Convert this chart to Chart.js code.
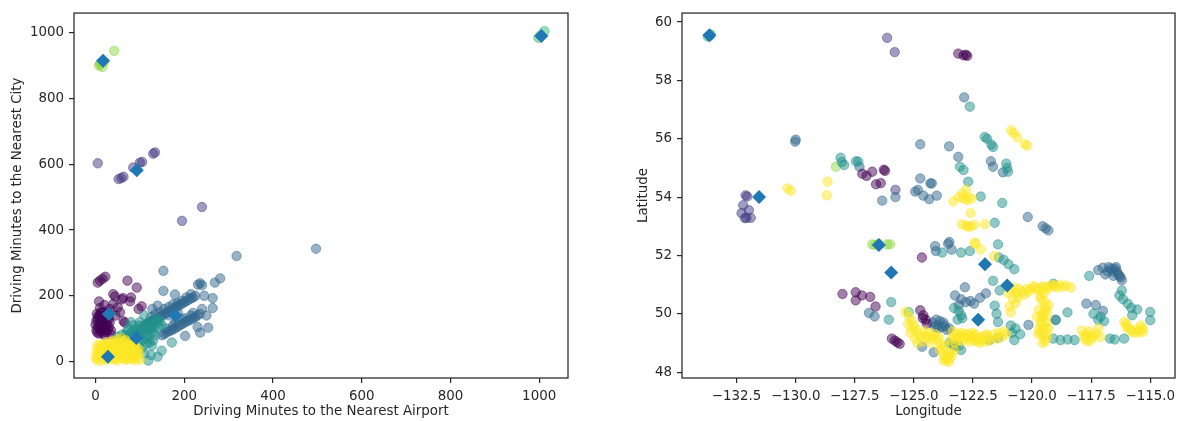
<!DOCTYPE html>
<html>
<head>
<meta charset="utf-8">
<script src="https://cdn.jsdelivr.net/npm/chart.js@4"></script>
<style>
  body { margin: 0; background: #fff; }
  .panel { position: absolute; top: 0; }
</style>
</head>
<body>
<div class="panel" style="left:0"><canvas id="minutesChart" width="590" height="421"></canvas></div>
<div class="panel" style="left:590px"><canvas id="coordsChart" width="592" height="421"></canvas></div>
<script>
// cluster colours (viridis, 7 clusters) and centroid colour
const clusterColors = ['#440154', '#443983', '#31688e', '#21918c', '#35b779', '#90d743', '#fde725'];
// lower value = drawn later (on top)
const clusterOrder = [3, 5, 4, 2, 5, 5, 1];
const centerColor = '#1f77b4';

// [minutes to airport, minutes to city] per cluster
const minutesK0 = [[5,240],[10,246],[16,252],[22,258],[72,246],[93,225],[44,198],[62,193],[8,183],[80,195],[40,205],[78,183],[59,189],[104,168],[63,123],[10,163],[66,118],[5,130],[10,120],[15,110],[20,100],[25,90],[2,95],[8,85],[18,140],[28,135],[12,150],[22,125],[30,105],[35,95],[5,105],[15,88],[25,115],[32,160],[40,175],[50,165],[55,150],[20,172],[45,140],[35,82],[0,112],[97,160],[12,100],[28,150],[3,145],[20,80],[2,125],[6,138],[14,128],[18,118],[24,108],[28,98],[32,120],[8,110],[12,92],[22,95],[16,150],[26,145],[4,88],[30,130],[10,140],[20,132]];
const minutesK1 = [[5,603],[52,555],[58,558],[63,562],[85,590],[100,605],[105,607],[130,632],[134,636],[195,428],[240,470]];
const minutesK2 = [[110,110],[120,118],[130,125],[140,132],[150,140],[160,148],[170,156],[180,165],[190,172],[200,180],[210,188],[220,195],[135,145],[155,160],[175,175],[195,185],[215,205],[125,135],[165,140],[185,150],[115,115],[125,122],[135,128],[145,136],[155,144],[165,152],[175,160],[185,168],[195,176],[205,184],[215,192],[225,200],[145,150],[165,166],[185,178],[205,195],[150,80],[160,88],[170,95],[180,102],[190,110],[200,118],[210,125],[220,132],[230,140],[175,110],[195,128],[215,140],[155,84],[165,92],[175,98],[185,106],[195,114],[205,122],[215,128],[225,136],[235,145],[160,100],[180,118],[200,132],[220,148],[202,78],[236,88],[254,103],[264,163],[264,193],[236,238],[231,234],[240,232],[269,240],[281,253],[153,276],[153,215],[179,204],[318,321],[497,343],[245,200],[240,160],[250,140],[230,105],[140,170],[128,160],[125,100]];
const minutesK3 = [[50,75],[55,68],[60,82],[65,60],[70,90],[75,72],[80,55],[85,95],[90,80],[95,65],[100,100],[105,85],[110,110],[115,95],[120,120],[125,105],[130,90],[135,125],[95,45],[105,40],[110,25],[119,3],[127,48],[149,33],[172,58],[140,15],[125,20],[115,55],[85,110],[75,100],[100,120],[140,130],[60,50],[70,40],[92,35],[120,75],[130,65],[80,120],[110,140],[150,110],[58,60],[62,72],[68,80],[72,62],[78,85],[82,70],[88,88],[92,98],[98,78],[102,92],[108,100],[112,84],[118,108],[122,98],[128,112],[132,100],[138,118],[142,108],[145,122],[108,68],[100,58],[88,62],[115,70],[135,80],[122,58],[98,110],[70,58],[84,78]];
const minutesK4 = [[998,985],[1012,1005],[1004,993]];
const minutesK5 = [[8,900],[12,908],[15,896],[20,912],[42,945],[10,905]];
const minutesK6 = [[3,5],[8,15],[12,2],[15,25],[18,10],[22,35],[25,5],[28,18],[32,45],[35,8],[38,28],[42,15],[45,50],[48,3],[52,22],[55,38],[58,10],[62,55],[65,28],[68,5],[72,42],[75,15],[78,30],[82,8],[85,48],[88,20],[92,35],[95,10],[98,25],[100,5],[5,40],[10,50],[20,55],[30,60],[40,62],[50,68],[58,72],[68,65],[78,58],[88,55],[2,28],[60,40],[48,35],[25,48],[70,20],[0,12],[6,22],[14,38],[16,48],[24,28],[30,12],[34,38],[36,52],[44,8],[46,28],[50,14],[54,48],[56,30],[62,18],[64,42],[66,12],[70,52],[74,30],[80,40],[84,14],[86,30],[90,45],[94,22],[96,38],[40,40],[20,42],[10,30],[30,25],[60,25],[80,22],[52,58],[42,55],[72,8],[88,5],[4,50],[64,62],[76,48]];
const minutesCenters = [[17,915],[93,582],[30,145],[180,140],[92,72],[28,15],[1005,990]];

// [longitude, latitude] per cluster
const coordsK0 = [[-127.18,54.8],[-127.0,54.73],[-126.76,54.87],[-126.6,54.44],[-126.27,54.94],[-126.4,54.48],[-126.22,54.9],[-128.02,50.68],[-127.46,50.74],[-127.46,50.46],[-127.2,50.63],[-126.85,50.58],[-126.62,50.25],[-125.93,49.15],[-125.8,49.08],[-125.7,49.02],[-125.6,48.97],[-123.12,58.92],[-122.9,58.86],[-122.74,58.84],[-122.8,58.88],[-124.73,50.12],[-124.6,49.95],[-124.5,49.8],[-124.45,49.66],[-124.62,49.85],[-124.66,51.93]];
const coordsK1 = [[-132.12,54.06],[-132.22,53.72],[-132.29,53.45],[-132.08,53.29],[-131.9,53.29],[-131.98,53.55],[-132.15,53.28],[-132.05,54.02],[-126.13,59.46],[-125.81,58.97],[-125.78,54.25]];
const coordsK2 = [[-130.0,55.97],[-130.02,55.9],[-127.3,55.04],[-126.34,53.88],[-125.78,54.0],[-126.9,50.03],[-126.66,49.91],[-122.87,57.42],[-124.73,55.81],[-123.51,55.74],[-123.12,55.38],[-121.74,55.23],[-121.65,55.04],[-121.23,54.85],[-124.94,54.19],[-124.83,54.25],[-124.73,54.64],[-124.3,54.47],[-124.24,54.47],[-124.35,53.93],[-124.03,54.05],[-124.6,54.05],[-120.18,53.32],[-119.55,53.0],[-119.42,52.93],[-119.31,52.86],[-123.5,52.46],[-124.07,52.15],[-123.4,52.2],[-124.1,52.32],[-123.55,52.4],[-124.65,48.87],[-124.16,48.68],[-124.2,49.7],[-124.0,49.6],[-123.8,49.55],[-123.6,49.45],[-123.9,49.75],[-124.1,49.55],[-123.7,49.6],[-123.95,49.5],[-123.75,49.7],[-123.5,49.5],[-124.05,49.8],[-122.84,50.91],[-123.0,50.5],[-122.8,50.4],[-122.6,50.44],[-122.45,50.35],[-123.1,50.3],[-122.2,50.55],[-121.95,50.7],[-123.26,50.63],[-117.2,51.5],[-117.0,51.58],[-116.8,51.45],[-116.65,51.55],[-116.5,51.55],[-116.4,51.45],[-116.3,51.3],[-116.55,51.3],[-116.2,51.15],[-116.9,51.35],[-116.75,51.6],[-116.6,51.45],[-116.45,51.6],[-116.35,51.35],[-116.25,51.25],[-117.7,50.35],[-117.3,50.3],[-117.0,50.1],[-119.0,49.8],[-120.15,49.62],[-123.3,48.9]];
const coordsK3 = [[-128.1,55.35],[-128.05,55.2],[-127.95,55.1],[-127.45,55.23],[-127.35,55.22],[-125.96,50.4],[-126.06,49.8],[-122.63,57.1],[-122.0,56.06],[-121.9,56.0],[-121.72,55.8],[-121.65,55.72],[-123.05,55.04],[-122.9,54.93],[-121.09,55.15],[-121.05,55.0],[-121.02,54.87],[-122.7,54.53],[-122.17,54.02],[-121.26,53.8],[-121.58,53.12],[-121.44,52.38],[-123.8,52.1],[-123.0,52.1],[-122.63,52.15],[-121.4,51.93],[-121.2,51.85],[-121.0,51.7],[-120.75,51.53],[-121.65,51.13],[-121.37,50.8],[-123.1,50.1],[-123.0,49.95],[-123.15,49.8],[-122.95,49.85],[-123.3,50.2],[-121.58,50.28],[-121.5,50.0],[-121.44,49.72],[-120.9,49.6],[-120.7,49.5],[-120.75,49.1],[-120.85,49.35],[-123.5,49.0],[-123.1,48.9],[-123.0,48.76],[-123.3,48.95],[-121.8,49.1],[-121.44,49.17],[-119.1,49.15],[-118.8,49.1],[-118.5,49.12],[-118.2,49.1],[-119.0,49.78],[-118.5,50.05],[-119.1,51.03],[-117.58,51.3],[-116.3,50.63],[-116.15,50.5],[-115.95,50.35],[-115.8,50.2],[-115.55,50.15],[-115.0,50.06],[-115.0,49.78],[-115.76,49.95],[-116.2,50.8],[-117.4,50.0],[-117.1,49.9],[-116.95,49.75],[-117.2,49.8],[-116.7,49.15],[-116.5,49.12],[-116.1,49.15],[-120.5,49.3]];
const coordsK4 = [[-133.72,59.5],[-133.6,59.58],[-133.65,59.52],[-125.22,50.06]];
const coordsK5 = [[-126.76,52.38],[-126.65,52.36],[-126.13,52.38],[-126.5,52.4],[-126.0,52.38],[-128.3,55.04]];
const coordsK6 = [[-130.35,54.3],[-130.2,54.22],[-128.65,54.53],[-128.68,54.06],[-120.88,56.29],[-120.78,56.2],[-120.62,56.05],[-120.3,55.82],[-120.2,55.76],[-123.33,53.85],[-123.1,54.0],[-122.95,54.12],[-122.8,54.25],[-122.7,54.0],[-122.55,53.95],[-122.75,53.9],[-122.9,53.95],[-122.6,53.45],[-122.98,53.07],[-122.8,53.03],[-122.6,53.0],[-122.45,53.05],[-122.0,53.07],[-122.7,52.98],[-122.42,52.44],[-122.17,52.21],[-121.6,51.98],[-122.4,52.4],[-120.8,50.51],[-125.36,50.06],[-125.2,49.9],[-125.1,49.75],[-125.0,49.6],[-124.9,49.45],[-124.8,49.3],[-125.05,49.5],[-124.7,49.2],[-124.5,49.25],[-124.35,49.35],[-124.2,49.2],[-124.0,49.1],[-123.85,48.95],[-123.9,48.75],[-123.75,48.6],[-123.65,48.45],[-123.5,48.42],[-123.55,48.6],[-123.4,48.55],[-123.3,48.75],[-124.6,49.05],[-125.25,49.65],[-125.15,49.35],[-124.95,49.15],[-124.85,49.0],[-124.55,49.4],[-124.4,49.15],[-124.25,49.0],[-124.1,49.3],[-123.95,49.2],[-123.8,48.8],[-123.7,48.9],[-123.6,48.5],[-123.45,48.65],[-123.55,48.35],[-123.75,48.4],[-123.45,49.1],[-123.25,49.0],[-123.1,49.2],[-122.85,49.3],[-122.65,49.05],[-122.5,49.25],[-122.35,49.05],[-122.1,49.1],[-121.9,49.3],[-121.75,49.1],[-121.3,49.2],[-121.1,49.3],[-122.55,49.35],[-123.0,49.35],[-123.2,49.3],[-123.05,49.25],[-122.9,49.2],[-122.75,49.15],[-122.6,49.18],[-122.45,49.1],[-122.3,49.15],[-122.15,49.2],[-122.0,49.25],[-121.85,49.2],[-121.6,49.3],[-121.4,49.35],[-121.2,49.4],[-122.95,49.05],[-123.15,49.1],[-122.7,49.3],[-122.4,49.3],[-121.95,49.05],[-123.35,49.4],[-123.3,49.2],[-122.2,49.0],[-121.5,49.15],[-120.85,50.8],[-120.65,50.72],[-120.45,50.75],[-120.25,50.85],[-120.05,50.85],[-119.85,50.9],[-119.65,50.85],[-119.45,50.9],[-119.25,50.95],[-119.05,50.95],[-118.85,51.0],[-118.55,50.97],[-118.35,50.9],[-120.95,50.25],[-120.6,50.55],[-121.0,50.7],[-120.75,50.9],[-120.55,50.85],[-120.35,50.65],[-120.15,50.75],[-119.95,50.95],[-119.75,50.8],[-119.55,50.95],[-119.35,50.85],[-119.15,51.0],[-118.95,50.9],[-118.7,50.92],[-120.7,50.35],[-120.9,50.05],[-119.65,50.6],[-119.5,50.45],[-119.45,50.25],[-119.5,50.05],[-119.55,49.85],[-119.6,49.65],[-119.55,49.45],[-119.5,49.25],[-119.45,49.05],[-119.3,50.3],[-119.7,50.15],[-119.35,49.95],[-119.7,49.5],[-119.4,49.7],[-119.35,49.3],[-119.75,49.3],[-119.8,49.9],[-119.62,50.5],[-119.4,50.15],[-119.6,49.95],[-119.45,49.55],[-119.65,49.35],[-119.4,49.15],[-119.55,49.0],[-119.3,49.5],[-119.65,49.75],[-119.5,50.7],[-117.9,49.42],[-117.7,49.3],[-117.5,49.25],[-117.3,49.32],[-117.2,49.5],[-117.75,49.12],[-117.5,49.1],[-117.1,49.2],[-117.8,49.25],[-117.6,49.4],[-117.4,49.2],[-117.65,49.05],[-116.1,49.72],[-116.0,49.55],[-115.8,49.4],[-115.6,49.45],[-115.3,49.5],[-115.5,49.35],[-115.4,49.6],[-116.0,49.65],[-115.9,49.5],[-115.7,49.35],[-115.45,49.45],[-115.3,49.38]];
const coordsCenters = [[-133.65,59.55],[-131.55,54.0],[-126.48,52.36],[-125.96,51.42],[-121.99,51.7],[-121.05,50.97],[-122.28,49.8]];

// tick positions
const airportTicks = [0, 200, 400, 600, 800, 1000];
const cityTicks = [0, 200, 400, 600, 800, 1000];
const lonTicks = [-132.5, -130, -127.5, -125, -122.5, -120, -117.5, -115];
const latTicks = [48, 50, 52, 54, 56, 58, 60];

const ink = '#262626';
const font = { family: 'DejaVu Sans', size: 13.4 };

function rgba(hex, a) {
  const n = parseInt(hex.slice(1), 16);
  return `rgba(${n >> 16},${(n >> 8) & 255},${n & 255},${a})`;
}

function cloud(pairs, i) {
  return {
    data: pairs.map(p => ({ x: p[0], y: p[1] })),
    backgroundColor: rgba(clusterColors[i], 0.5),
    borderColor: rgba(clusterColors[i], 0.5),
    borderWidth: 1,
    pointRadius: 4.7,
    order: clusterOrder[i]
  };
}

function centers(pairs) {
  return {
    data: pairs.map(p => ({ x: p[0], y: p[1] })),
    pointStyle: 'rectRot',
    pointRadius: 7,
    backgroundColor: centerColor,
    borderColor: centerColor,
    borderWidth: 0,
    order: 0
  };
}

function axis(min, max, ticks, label, fmt, titlePad, fit) {
  return {
    type: 'linear',
    min: min,
    max: max,
    afterBuildTicks: s => { s.ticks = ticks.map(v => ({ value: v })); },
    afterFit: fit,
    ticks: { color: ink, font: font, padding: 5, autoSkip: false, maxRotation: 0, callback: fmt },
    grid: { drawOnChartArea: false, drawTicks: true, tickLength: 5, color: ink, lineWidth: 1.2 },
    border: { display: false },
    title: { display: true, text: label, color: ink, font: font, padding: titlePad }
  };
}

// box round the plot area
const frame = {
  id: 'frame',
  afterDraw(chart) {
    const { ctx, chartArea: a } = chart;
    ctx.save();
    ctx.strokeStyle = ink;
    ctx.lineWidth = 1.25;
    ctx.strokeRect(a.left, a.top, a.right - a.left, a.bottom - a.top);
    ctx.restore();
  }
};

const common = {
  responsive: false,
  animation: false,
  plugins: { legend: { display: false }, tooltip: { enabled: false } }
};

const minusSign = s => s.replace('-', '\u2212');

new Chart(document.getElementById('minutesChart'), {
  type: 'scatter',
  data: {
    datasets: [
      centers(minutesCenters),
      ...[minutesK0, minutesK1, minutesK2, minutesK3, minutesK4, minutesK5, minutesK6].map(cloud)
    ]
  },
  options: {
    ...common,
    layout: { padding: { left: 0, right: 22, top: 8, bottom: 0 } },
    scales: {
      x: axis(-48.5, 1065, airportTicks, 'Driving Minutes to the Nearest Airport', v => String(v),
        { top: 0, bottom: 1 }, s => { s.height = 43; }),
      y: axis(-50, 1060, cityTicks, 'Driving Minutes to the Nearest City', v => String(v),
        { top: 9, bottom: 0 }, s => { s.width = 74; })
    }
  },
  plugins: [frame]
});

new Chart(document.getElementById('coordsChart'), {
  type: 'scatter',
  data: {
    datasets: [
      centers(coordsCenters),
      ...[coordsK0, coordsK1, coordsK2, coordsK3, coordsK4, coordsK5, coordsK6].map(cloud)
    ]
  },
  options: {
    ...common,
    layout: { padding: { left: 0, right: 4, top: 10, bottom: 0 } },
    scales: {
      x: axis(-134.81, -113.95, lonTicks, 'Longitude', v => minusSign(v.toFixed(1)),
        { top: 0, bottom: 1 }, s => { s.height = 43; }),
      y: axis(47.8, 60.31, latTicks, 'Latitude', v => String(v),
        { top: 45, bottom: 0 }, s => { s.width = 92; })
    }
  },
  plugins: [frame]
});
</script>
</body>
</html>
